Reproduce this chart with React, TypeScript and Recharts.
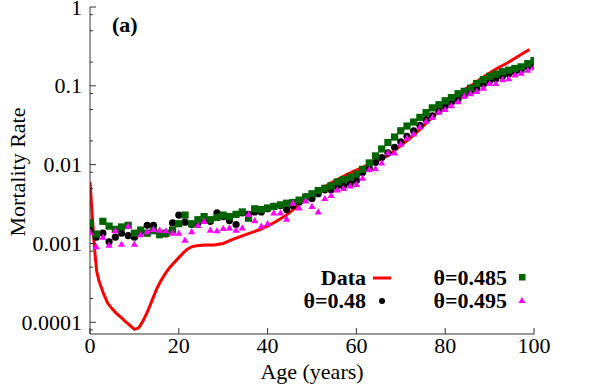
import React from 'react';
import { ComposedChart, Line, Scatter, XAxis, YAxis } from 'recharts';

// Age grid of the model points (years)
const modelAges = [0, 1.4, 2.9, 4.3, 5.7, 7.1, 8.6, 10, 11.4, 12.9, 14.3, 15.7, 17.1, 18.6, 20, 21.4, 22.9, 24.3, 25.7, 27.1, 28.6, 30, 31.4, 32.9, 34.3, 35.7, 37.1, 38.6, 40, 41.4, 42.9, 44.3, 45.7, 47.1, 48.6, 50, 51.4, 52.9, 54.3, 55.7, 57.1, 58.6, 60, 61.4, 62.9, 64.3, 65.7, 67.1, 68.6, 70, 71.4, 72.9, 74.3, 75.7, 77.1, 78.6, 80, 81.4, 82.9, 84.3, 85.7, 87.1, 88.6, 90, 91.4, 92.9, 94.3, 95.7, 97.1, 98.6, 100];

// theta = 0.48 (black circles)
const theta048 = [0.00148, 0.0012, 0.00135, 0.00105, 0.0012, 0.00135, 0.00126, 0.0012, 0.00141, 0.0017, 0.0017, 0.00135, 0.00132, 0.00182, 0.00229, 0.00186, 0.00174, 0.00182, 0.002, 0.00191, 0.00245, 0.00219, 0.00195, 0.00174, 0.00245, 0.00234, 0.00251, 0.00251, 0.00275, 0.00295, 0.00302, 0.00269, 0.00302, 0.00339, 0.00389, 0.00372, 0.00427, 0.00479, 0.00479, 0.00537, 0.00537, 0.00575, 0.00631, 0.00794, 0.00891, 0.0107, 0.0123, 0.0141, 0.0166, 0.0195, 0.0229, 0.0269, 0.0316, 0.0372, 0.0417, 0.0479, 0.055, 0.0617, 0.0676, 0.0759, 0.0851, 0.0933, 0.105, 0.115, 0.123, 0.132, 0.141, 0.151, 0.158, 0.174, 0.186];

// theta = 0.485 (green squares)
const theta0485 = [0.00178, 0.00132, 0.00191, 0.00166, 0.00151, 0.00162, 0.0017, 0.00135, 0.00148, 0.00135, 0.00145, 0.00129, 0.00135, 0.00148, 0.00178, 0.00229, 0.00178, 0.002, 0.00219, 0.002, 0.00214, 0.00229, 0.00219, 0.00234, 0.00251, 0.00209, 0.00275, 0.00269, 0.00282, 0.00295, 0.00309, 0.00324, 0.00331, 0.00355, 0.00389, 0.00427, 0.00468, 0.00501, 0.00537, 0.00603, 0.00646, 0.00692, 0.00759, 0.00871, 0.0105, 0.0129, 0.0158, 0.0191, 0.0224, 0.0269, 0.0309, 0.0347, 0.0398, 0.0457, 0.0525, 0.0575, 0.0646, 0.0708, 0.0794, 0.0851, 0.0933, 0.107, 0.12, 0.132, 0.141, 0.151, 0.158, 0.166, 0.174, 0.191, 0.209];

// theta = 0.495 (magenta triangles)
const theta0495 = [0.00138, 0.000912, 0.0012, 0.000955, 0.00145, 0.000977, 0.00166, 0.000977, 0.00129, 0.00141, 0.00151, 0.00148, 0.00145, 0.00135, 0.00135, 0.0011, 0.00141, 0.0017, 0.00191, 0.00148, 0.00145, 0.00155, 0.00158, 0.00148, 0.00158, 0.00234, 0.00195, 0.00166, 0.00178, 0.00245, 0.00245, 0.00204, 0.00324, 0.00282, 0.00347, 0.00295, 0.00251, 0.00372, 0.00407, 0.00479, 0.00501, 0.00537, 0.00562, 0.00676, 0.00871, 0.00891, 0.0105, 0.0141, 0.0141, 0.0182, 0.0219, 0.0245, 0.0302, 0.0355, 0.0398, 0.0468, 0.0501, 0.0562, 0.0631, 0.0741, 0.0794, 0.0851, 0.0933, 0.107, 0.107, 0.12, 0.123, 0.138, 0.145, 0.158, 0.17];

// Observed data (red line)
const dataAges = [0, 1, 1.5, 2, 3, 4, 5, 6, 7, 8, 9, 10, 11, 12, 13, 14, 15, 16, 17, 18, 19, 20, 21, 22, 23, 24, 26, 28, 30, 32, 34, 36, 38, 40, 42, 44, 46, 48, 50, 52, 54, 56, 58, 60, 62, 64, 66, 68, 70, 72, 74, 76, 78, 80, 82, 84, 86, 88, 90, 92, 94, 96, 98, 99];
const dataRates = [0.00603, 0.000891, 0.000447, 0.000339, 0.000234, 0.000174, 0.000148, 0.000129, 0.000115, 0.000102, 0.0000912, 0.0000813, 0.0000851, 0.000105, 0.000138, 0.000191, 0.000263, 0.000339, 0.000417, 0.000501, 0.000575, 0.000661, 0.000759, 0.000851, 0.000912, 0.000933, 0.000955, 0.000955, 0.001, 0.00112, 0.00123, 0.00135, 0.00148, 0.00166, 0.00191, 0.00224, 0.00275, 0.00339, 0.00417, 0.0049, 0.00575, 0.00661, 0.00759, 0.00851, 0.00955, 0.0107, 0.012, 0.0141, 0.0174, 0.0214, 0.0269, 0.0347, 0.0447, 0.0575, 0.0724, 0.0871, 0.102, 0.123, 0.145, 0.17, 0.195, 0.229, 0.269, 0.288];

// Axis ticks
const xTicks = [0, 20, 40, 60, 80, 100];
const yMajorTicks = [0.0001, 0.001, 0.01, 0.1, 1];
const yMajorLabels = ['0.0001', '0.001', '0.01', '0.1', '1'];
const yMinorTicks = [0.00008, 0.0002, 0.0005, 0.0008, 0.002, 0.005, 0.008, 0.02, 0.05, 0.08, 0.2, 0.5, 0.8];

const legendLabels = ['Data', 'θ=0.48', 'θ=0.485', 'θ=0.495'];

const toPoints = (ages: number[], vals: number[]) => ages.map((a, i) => ({ age: a, v: vals[i] }));
const data048 = toPoints(modelAges, theta048);
const data0485 = toPoints(modelAges, theta0485);
const data0495 = toPoints(modelAges, theta0495);
const dataObs = toPoints(dataAges, dataRates);

const W = 598;
const H = 389;
const FONT = "'Liberation Serif', 'Times New Roman', Times, Tinos, 'Nimbus Roman', serif";
const AXIS = '#333333';
const yTicksAll = [...yMajorTicks, ...yMinorTicks].sort((a, b) => a - b);
const txt = { fontFamily: FONT };

const isMajor = (v: number) => yMajorTicks.some((m) => Math.abs(m - v) / m < 1e-6);

const YTick = (props: any) => {
  const { x, y, payload, side } = props;
  const v = payload.value;
  const major = isMajor(v);
  const len = major ? 6 : 3;
  const dir = side === 'left' ? 1 : -1;
  const idx = yMajorTicks.findIndex((m) => Math.abs(m - v) / m < 1e-6);
  return (
    <g>
      <line x1={x} x2={x + dir * len} y1={y} y2={y} stroke={AXIS} strokeWidth={1} />
      {side === 'left' && major && (
        <text x={x - 8} y={y + 7.5} textAnchor="end" style={txt} fontSize={22} fill="#000">
          {yMajorLabels[idx]}
        </text>
      )}
    </g>
  );
};

const XTick = (props: any) => {
  const { x, y, payload, side } = props;
  const dir = side === 'bottom' ? -1 : 1;
  return (
    <g>
      <line x1={x} x2={x} y1={y} y2={y + dir * 6} stroke={AXIS} strokeWidth={1} />
      {side === 'bottom' && (
        <text x={x} y={y + 19} textAnchor="middle" style={txt} fontSize={22} fill="#000">
          {payload.value}
        </text>
      )}
    </g>
  );
};

const circleShape = (p: any) => <circle cx={p.cx} cy={p.cy} r={3.6} fill="#000000" />;
const squareShape = (p: any) => <rect x={p.cx - 3.6} y={p.cy - 3.6} width={7.2} height={7.2} fill="#006400" />;
const triangleShape = (p: any) => (
  <polygon points={`${p.cx},${p.cy - 3.6} ${p.cx - 3.6},${p.cy + 2.6} ${p.cx + 3.6},${p.cy + 2.6}`} fill="#ff00ff" />
);

export default function App() {
  return (
    <div style={{ position: 'absolute', left: 0, top: 0, width: W, height: H, background: '#fff', fontFamily: FONT }}>
      <ComposedChart width={W} height={H} margin={{ top: 7, right: 64, bottom: 0, left: 0 }}>
        <XAxis
          xAxisId="b"
          dataKey="age"
          type="number"
          domain={[0, 100]}
          ticks={xTicks}
          interval={0}
          height={55}
          tickSize={0}
          tickMargin={0}
          axisLine={{ stroke: AXIS }}
          tickLine={false}
          tick={<XTick side="bottom" />}
          allowDataOverflow
        />
        <XAxis
          xAxisId="t"
          orientation="top"
          dataKey="age"
          type="number"
          domain={[0, 100]}
          ticks={xTicks}
          interval={0}
          height={0}
          tickSize={0}
          tickMargin={0}
          axisLine={{ stroke: AXIS }}
          tickLine={false}
          tick={<XTick side="top" />}
          allowDataOverflow
        />
        <YAxis
          yAxisId="l"
          dataKey="v"
          type="number"
          scale="log"
          domain={[0.000071, 1]}
          ticks={yTicksAll}
          interval={0}
          width={90}
          tickSize={0}
          tickMargin={0}
          axisLine={{ stroke: AXIS }}
          tickLine={false}
          tick={<YTick side="left" />}
          allowDataOverflow
        />
        <YAxis
          yAxisId="r"
          orientation="right"
          dataKey="v"
          type="number"
          scale="log"
          domain={[0.000071, 1]}
          ticks={yTicksAll}
          interval={0}
          width={0}
          tickSize={0}
          tickMargin={0}
          axisLine={{ stroke: AXIS }}
          tickLine={false}
          tick={<YTick side="right" />}
          allowDataOverflow
        />
        <Line
          xAxisId="b"
          yAxisId="l"
          data={dataObs}
          dataKey="v"
          type="linear"
          stroke="#ff0000"
          strokeWidth={3}
          dot={false}
          activeDot={false}
          isAnimationActive={false}
        />
        <Scatter xAxisId="b" yAxisId="l" data={data048} dataKey="v" shape={circleShape} isAnimationActive={false} />
        <Scatter xAxisId="b" yAxisId="l" data={data0485} dataKey="v" shape={squareShape} isAnimationActive={false} />
        <Scatter xAxisId="b" yAxisId="l" data={data0495} dataKey="v" shape={triangleShape} isAnimationActive={false} />
      </ComposedChart>
      <svg
        width={W}
        height={H}
        style={{ position: 'absolute', left: 0, top: 0, pointerEvents: 'none', fontFamily: FONT }}
      >
        <text x={112} y={32} fontSize={22} fontWeight="bold" fill="#000" style={txt}>(a)</text>
        <text x={312} y={379} fontSize={22} textAnchor="middle" fill="#000" style={txt}>Age (years)</text>
        <text x={25} y={172} fontSize={22} textAnchor="middle" fill="#000" style={txt} transform="rotate(-90 25 172)">
          Mortality Rate
        </text>
        <text x={366} y={285} fontSize={22} fontWeight="bold" textAnchor="end" fill="#000" style={txt}>{legendLabels[0]}</text>
        <line x1={373} x2={391} y1={278} y2={278} stroke="#ff0000" strokeWidth={3} />
        <text x={366} y={308} fontSize={22} fontWeight="bold" textAnchor="end" fill="#000" style={txt}>{legendLabels[1]}</text>
        <circle cx={382} cy={301} r={3} fill="#000" />
        <text x={507} y={285} fontSize={22} fontWeight="bold" textAnchor="end" fill="#000" style={txt}>{legendLabels[2]}</text>
        <rect x={519} y={274} width={6.5} height={6.5} fill="#006400" />
        <text x={507} y={308} fontSize={22} fontWeight="bold" textAnchor="end" fill="#000" style={txt}>{legendLabels[3]}</text>
        <polygon points="522,297 518.5,303 525.5,303" fill="#ff00ff" />
      </svg>
    </div>
  );
}
